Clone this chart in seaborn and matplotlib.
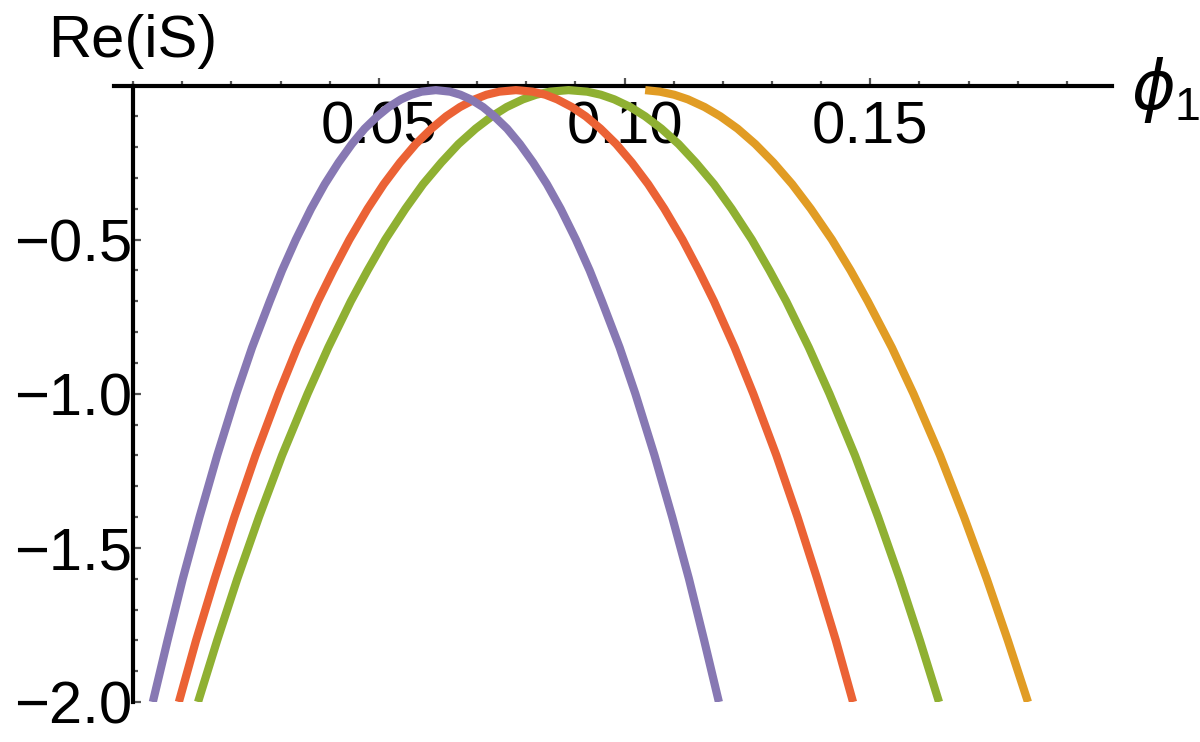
import numpy as np
import pandas as pd
import matplotlib
matplotlib.use("Agg")
import matplotlib.pyplot as plt
import seaborn as sns

# --------------------------
# Datos
# --------------------------
# niveles de Re(iS) donde se leyeron las ramas (de abajo hacia el maximo)
re_levels = [-2.0, -1.8, -1.6, -1.4, -1.2, -1.0, -0.85, -0.7, -0.6, -0.5,
             -0.4, -0.32, -0.25, -0.19, -0.14, -0.1, -0.07, -0.045, -0.03, -0.02]
peak_re = -0.015

purple_left = [0.0040, 0.0070, 0.0101, 0.0135, 0.0171, 0.0210, 0.0242, 0.0278,
               0.0303, 0.0331, 0.0362, 0.0390, 0.0418, 0.0445, 0.0471, 0.0497,
               0.0520, 0.0545, 0.0566, 0.0587]
purple_peak = 0.0616
purple_right = [0.1192, 0.1162, 0.1131, 0.1097, 0.1061, 0.1022, 0.0990, 0.0954,
                0.0929, 0.0901, 0.0870, 0.0842, 0.0814, 0.0787, 0.0761, 0.0735,
                0.0712, 0.0687, 0.0666, 0.0645]

red_left = [0.0093, 0.0128, 0.0166, 0.0206, 0.0249, 0.0296, 0.0334, 0.0376,
            0.0407, 0.0440, 0.0477, 0.0510, 0.0543, 0.0575, 0.0607, 0.0637,
            0.0665, 0.0695, 0.0719, 0.0745]
red_peak = 0.0779
red_right = [0.1465, 0.1430, 0.1392, 0.1352, 0.1309, 0.1262, 0.1224, 0.1182,
             0.1151, 0.1118, 0.1081, 0.1048, 0.1015, 0.0983, 0.0951, 0.0921,
             0.0893, 0.0863, 0.0839, 0.0813]

green_left = [0.0132, 0.0171, 0.0212, 0.0256, 0.0303, 0.0355, 0.0397, 0.0443,
              0.0477, 0.0513, 0.0554, 0.0590, 0.0627, 0.0662, 0.0697, 0.0730,
              0.0760, 0.0793, 0.0820, 0.0848]
green_peak = 0.0886
green_right = [0.1640, 0.1601, 0.1560, 0.1516, 0.1469, 0.1417, 0.1375, 0.1329,
               0.1295, 0.1259, 0.1218, 0.1182, 0.1145, 0.1110, 0.1075, 0.1042,
               0.1012, 0.0979, 0.0952, 0.0924]

# la curva naranja solo aparece a la derecha de su maximo
orange_start = 0.1042
orange_right = [0.1821, 0.1780, 0.1737, 0.1691, 0.1642, 0.1588, 0.1544, 0.1495,
                0.1460, 0.1422, 0.1379, 0.1341, 0.1303, 0.1266, 0.1230, 0.1195,
                0.1163, 0.1129, 0.1101, 0.1072]

x_major = [0.05, 0.10, 0.15]
x_major_labels = ["0.05", "0.10", "0.15"]
y_major = [-2.0, -1.5, -1.0, -0.5]
y_major_labels = ["\u22122.0", "\u22121.5", "\u22121.0", "\u22120.5"]

# --------------------------
# Tabla larga para seaborn
# --------------------------
def curve_frame(xs_left, x_peak, xs_right, name):
    xs = list(xs_left) + [x_peak] + list(xs_right)
    ys = re_levels[:len(xs_left)] + [peak_re] + re_levels[:len(xs_right)]
    return pd.DataFrame({"phi": xs, "reis": ys, "curve": name})

df = pd.concat([
    curve_frame([], orange_start, orange_right, "orange"),
    curve_frame(green_left, green_peak, green_right, "green"),
    curve_frame(red_left, red_peak, red_right, "red"),
    curve_frame(purple_left, purple_peak, purple_right, "purple"),
], ignore_index=True)

palette = {"orange": "#E19C24", "green": "#8FB032",
           "red": "#EB6235", "purple": "#8778B3"}

# --------------------------
# Grafico
# --------------------------
sns.set_theme(style="white")
plt.rcParams["font.family"] = ["Liberation Sans", "DejaVu Sans"]
plt.rcParams["text.color"] = "black"
plt.rcParams["mathtext.fontset"] = "custom"
plt.rcParams["mathtext.rm"] = "Liberation Sans"
plt.rcParams["mathtext.it"] = "DejaVu Sans:italic"

fig = plt.figure(figsize=(12, 7.42), dpi=100)
ax = fig.add_axes([114 / 1200, 1 - 702 / 742, 998 / 1200, (702 - 85.5) / 742])

sns.lineplot(data=df, x="phi", y="reis", hue="curve",
             hue_order=["orange", "green", "red", "purple"], palette=palette,
             estimator=None, sort=True, legend=False, linewidth=5.9, ax=ax)
# las curvas van por encima de las etiquetas de los ejes
for ln in ax.lines:
    ln.set_solid_capstyle("butt")
    ln.set_solid_joinstyle("round")
    ln.set_zorder(3)

ax.set_xlim(-0.0039, 0.1992)
ax.set_ylim(-2.0, 0.0)
ax.set_xlabel("")
ax.set_ylabel("")

# ejes estilo Mathematica: se cruzan en el origen
for side in ["top", "right"]:
    ax.spines[side].set_visible(False)
ax.spines["left"].set_position(("data", 0))
ax.spines["bottom"].set_position(("data", 0))
for side in ["left", "bottom"]:
    ax.spines[side].set_linewidth(3)
    ax.spines[side].set_color("black")
    ax.spines[side].set_zorder(1)

ax.set_xticks(x_major)
ax.set_xticklabels(x_major_labels)
ax.set_xticks(np.arange(0, 0.195, 0.01), minor=True)
ax.set_yticks(y_major)
ax.set_yticklabels(y_major_labels)
ax.set_yticks(np.arange(-1.9, 0, 0.1), minor=True)

ax.tick_params(which="both", direction="in", color="#555555", width=1.6,
               labelsize=43, labelcolor="black")
ax.tick_params(axis="x", which="both", pad=11, bottom=True)
ax.tick_params(axis="y", which="both", pad=0.5, left=True)
ax.tick_params(which="major", length=6)
ax.tick_params(which="minor", length=3.5)

fig.text(48 / 1200, 1 - 57 / 742, "Re(iS)", fontsize=43, color="black",
         ha="left", va="baseline")
fig.text(1131 / 1200, 1 - 90 / 742, r"$\phi_1$", fontsize=48, color="black",
         ha="left", va="center")

fig.savefig("out.png", dpi=100)
